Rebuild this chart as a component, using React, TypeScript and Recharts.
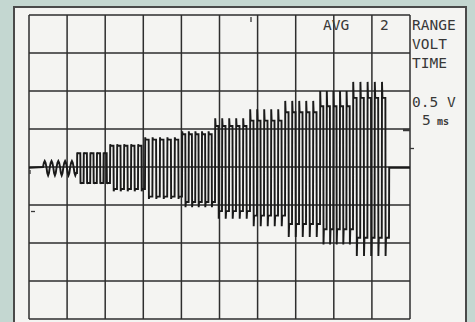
import React from 'react';
import { LineChart, Line, XAxis, YAxis, ReferenceLine } from 'recharts';

// screen divisions: 5 ms / div across, 0.5 V / div up
const timeTicks = [0, 5, 10, 15, 20, 25, 30, 35, 40, 45, 50];
const voltTicks = [-2, -1.5, -1, -0.5, 0, 0.5, 1, 1.5, 2];

// burst edges (ms), 10 steps of 5 cycles each
const burstEdges = [1.84, 6.3, 10.63, 15.22, 20.08, 24.41, 29.0, 33.6, 38.19, 42.52, 47.24];
const cyclesPerBurst = [5, 5, 5, 5, 5, 5, 5, 5, 5, 5];
const burstShape = ['sine', 'square', 'square', 'square', 'square', 'square', 'square', 'square', 'square', 'square'];

// levels in volts for each burst
const highLevel = [0.08, 0.18, 0.28, 0.36, 0.43, 0.54, 0.61, 0.72, 0.8, 0.91];
const lowLevel = [-0.11, -0.21, -0.29, -0.39, -0.46, -0.58, -0.64, -0.75, -0.82, -0.93];
const spikeHigh = [0.08, 0.19, 0.3, 0.39, 0.47, 0.64, 0.76, 0.87, 1.0, 1.12];
const spikeLow = [-0.11, -0.22, -0.32, -0.42, -0.53, -0.68, -0.78, -0.92, -1.02, -1.17];
const baseline = -0.01;

// waveform templates for one cycle
const sineShape = [0, 0.71, 1, 0.71, 0, -0.71, -1, -0.71];
const squareShape: [number, 'spikeHigh' | 'high' | 'spikeLow' | 'low'][] = [
  [0.03, 'spikeHigh'],
  [0.09, 'high'],
  [0.5, 'high'],
  [0.53, 'spikeLow'],
  [0.59, 'low'],
];

const buildTrace = () => {
  const pts: { t: number; v: number }[] = [{ t: 0, v: baseline }];
  let last = baseline;
  for (let g = 0; g < highLevel.length; g++) {
    const start = burstEdges[g];
    const n = cyclesPerBurst[g];
    const period = (burstEdges[g + 1] - start) / n;
    const levels = { high: highLevel[g], low: lowLevel[g], spikeHigh: spikeHigh[g], spikeLow: spikeLow[g] };
    for (let c = 0; c < n; c++) {
      const t0 = start + c * period;
      if (burstShape[g] === 'sine') {
        sineShape.forEach((w, i) => {
          pts.push({ t: t0 + (i / sineShape.length) * period, v: w >= 0 ? w * levels.high : -w * levels.low });
        });
      } else {
        pts.push({ t: t0, v: last });
        squareShape.forEach(([f, k]) => pts.push({ t: t0 + f * period, v: levels[k] }));
      }
      last = pts[pts.length - 1].v;
    }
  }
  const end = burstEdges[burstEdges.length - 1];
  pts.push({ t: end, v: last }, { t: end + 0.03, v: baseline }, { t: 50, v: baseline });
  return pts;
};

const trace = buildTrace();

const gridColor = '#2e2e2e';
const inkColor = '#383838';
const font = '"DejaVu Sans Mono", monospace';

const App: React.FC = () => {
  return (
    <div style={{ position: 'fixed', left: 0, top: 0, width: 475, height: 322, background: '#c4d7d1', overflow: 'hidden' }}>
      <div
        style={{
          position: 'absolute',
          left: 13,
          top: 6,
          width: 450,
          height: 330,
          border: '2px solid #4a4a4a',
          background: '#f4f4f2',
        }}
      />
      <div style={{ position: 'absolute', left: 0, top: 0 }}>
        <LineChart width={475} height={322} data={trace} margin={{ top: 15, right: 65, bottom: 3, left: 29 }}>
          <XAxis type="number" dataKey="t" domain={[0, 50]} ticks={timeTicks} allowDataOverflow hide />
          <YAxis type="number" domain={[-2, 2]} ticks={voltTicks} allowDataOverflow hide />
          {timeTicks.map((t) => (
            <ReferenceLine key={'x' + t} x={t} stroke={gridColor} strokeWidth={1.5} />
          ))}
          {voltTicks.map((v) => (
            <ReferenceLine key={'y' + v} y={v} stroke={gridColor} strokeWidth={1.5} />
          ))}
          <Line
            type="linear"
            dataKey="v"
            stroke="#1a1a1a"
            strokeWidth={1.9}
            dot={false}
            isAnimationActive={false}
          />
        </LineChart>
      </div>
      <svg width={475} height={322} style={{ position: 'absolute', left: 0, top: 0, pointerEvents: 'none' }}>
        <g fill={inkColor} fontFamily={font} fontSize={14.5}>
          <text x={323} y={30}>AVG</text>
          <text x={380} y={30}>2</text>
          <text x={412} y={30}>RANGE</text>
          <text x={412} y={49}>VOLT</text>
          <text x={412} y={68}>TIME</text>
          <text x={412} y={107}>0.5 V</text>
          <text x={422} y={125}>5</text>
          <text x={437} y={125} fontSize={10} fill={inkColor} style={{ fontWeight: 'bold' }}>ms</text>
        </g>
        <g stroke={inkColor} strokeWidth={1.3}>
          <line x1={251} y1={17} x2={251} y2={22} />
          <line x1={31} y1={211.5} x2={35} y2={211.5} />
          <line x1={30} y1={170} x2={30} y2={174} />
          <line x1={403} y1={130} x2={410} y2={130} strokeWidth={2.5} />
          <line x1={410} y1={148.5} x2={414} y2={148.5} />
        </g>
      </svg>
    </div>
  );
};

export default App;
